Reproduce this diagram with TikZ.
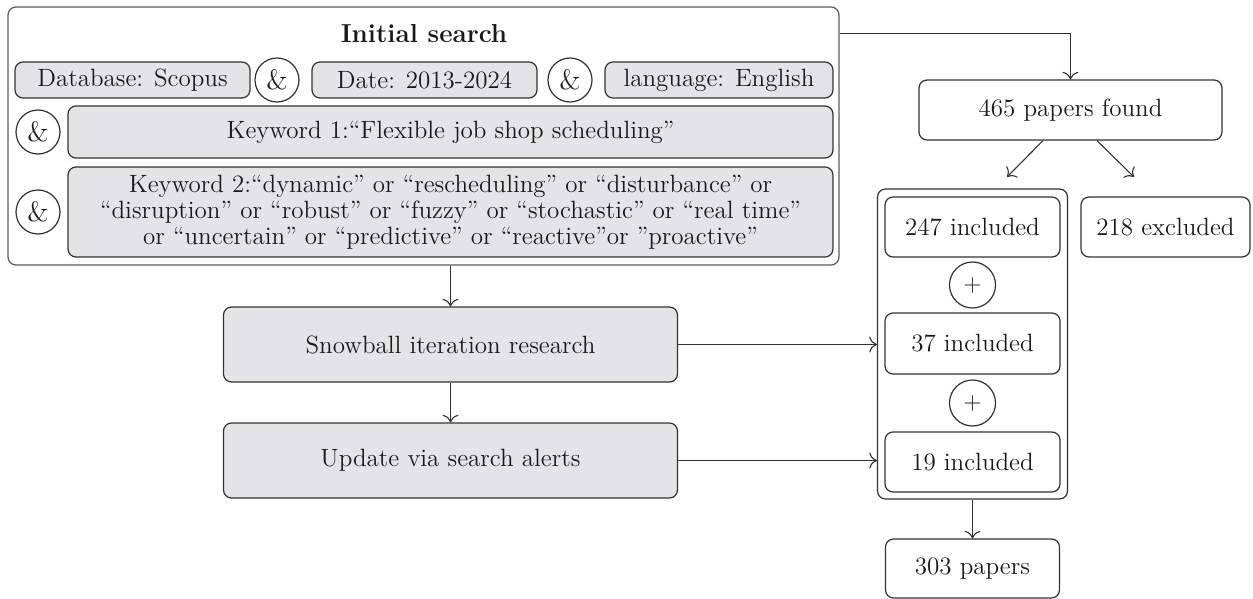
\documentclass[tikz,border=0pt]{standalone}
\usetikzlibrary{calc,arrows.meta}
\definecolor{boxfill}{RGB}{228,228,231}
\definecolor{edge}{RGB}{50,50,50}
\tikzset{
  every node/.style={font=\fontsize{12.5}{13}\selectfont, text=black!90},
  base/.style={draw=edge, line width=0.6pt, rounded corners=4pt, inner sep=0pt, rectangle, align=center},
  gbox/.style={base, fill=boxfill},
  wbox/.style={base, fill=white},
  opc/.style={circle, draw=edge, line width=0.6pt, inner sep=0pt, minimum size=22pt, fill=white},
  conn/.style={draw=edge, line width=0.55pt, -{To[scale=1.35]}},
}
\begin{document}
\begin{tikzpicture}[x=0.5pt, y=-0.5pt]
\useasboundingbox (0,0) rectangle (1253,599);
% initial search group
\node[base, draw=edge!80, minimum width=415.5pt, minimum height=129pt] (outer) at (423.5,136) {};
\node[font=\fontsize{13}{15}\selectfont\bfseries] (title) at (424,33.5) {Initial search};
\node[gbox, minimum width=117.5pt, minimum height=18pt] (db) at (132.5,80) {Database: Scopus};
\node[opc, font=\fontsize{14}{15}\selectfont] (and1) at (277,80) {\&};
\node[gbox, minimum width=112.5pt, minimum height=18pt] (date) at (424.5,80) {Date: 2013-2024};
\node[opc, font=\fontsize{14}{15}\selectfont] (and2) at (570,80) {\&};
\node[gbox, minimum width=114pt, minimum height=18pt] (lang) at (719,80) {language: English};
\node[opc, font=\fontsize{14}{15}\selectfont] (and3) at (38,132) {\&};
\node[gbox, minimum width=382.5pt, minimum height=26pt] (kw1) at (450.5,132) {Keyword 1:``Flexible job shop scheduling''};
\node[opc, font=\fontsize{14}{15}\selectfont] (and4) at (38,212) {\&};
\node[gbox, minimum width=382.5pt, minimum height=45pt] (kw2) at (450.5,212) {Keyword 2:``dynamic'' or ``rescheduling'' or ``disturbance'' or\\ ``disruption'' or ``robust'' or ``fuzzy'' or ``stochastic'' or ``real time''\\ or ``uncertain'' or ``predictive'' or ``reactive''or ''proactive''};
% left column
\node[gbox, minimum width=227pt, minimum height=37.5pt] (snow) at (450.5,344.5) {Snowball iteration research};
\node[gbox, minimum width=227pt, minimum height=37.5pt] (upd) at (450.5,460.5) {Update via search alerts};
% right column
\node[wbox, minimum width=151.5pt, minimum height=30pt] (found) at (1070.5,110) {465 papers found};
\node[wbox, minimum width=95pt, minimum height=155pt] (group) at (972.5,344) {};
\node[wbox, minimum width=87.5pt, minimum height=30pt] (inc1) at (972.5,227) {247 included};
\node[wbox, minimum width=84.5pt, minimum height=30pt] (excl) at (1165.5,227) {218 excluded};
\node[opc, minimum size=23pt] (plus1) at (972.5,285) {$+$};
\node[wbox, minimum width=87.5pt, minimum height=30.5pt] (inc2) at (972.5,343.5) {37 included};
\node[opc, minimum size=23pt] (plus2) at (972.5,403) {$+$};
\node[wbox, minimum width=87.5pt, minimum height=30pt] (inc3) at (972.5,462) {19 included};
\node[wbox, minimum width=87pt, minimum height=29.5pt] (p303) at (972.5,568.5) {303 papers};
% connectors
\coordinate (tipL) at (1007,177);
\coordinate (tipR) at (1134,177);
\draw[conn] (title -| outer.east) -| (found.north);
\draw[conn] ([xshift=-13.75pt]found.south) -- (tipL);
\draw[conn] ([xshift=13.25pt]found.south) -- (tipR);
\draw[conn] (outer.south -| snow.north) -- (snow.north);
\draw[conn] (snow.south) -- (upd.north);
\draw[conn] (snow.east) -- (snow.east -| group.west);
\draw[conn] (upd.east) -- (upd.east -| group.west);
\draw[conn] (group.south) -- (p303.north);
\end{tikzpicture}
\end{document}
